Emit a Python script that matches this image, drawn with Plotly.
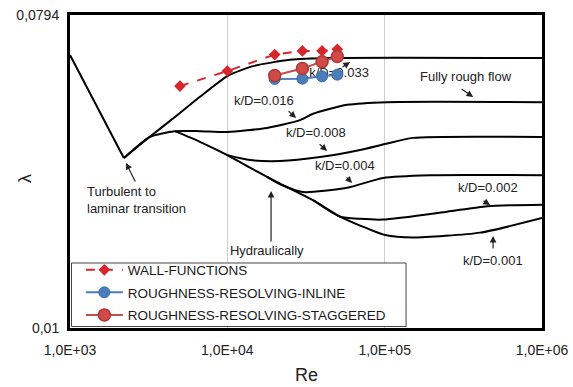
import plotly.graph_objects as go

# ---------------- data ----------------
re_laminar = [1000, 2200]
lam_laminar = [0.0609, 0.0308]

re_033 = [2200, 3200, 5000, 6700, 10000, 14560, 25000, 45000, 1000000]
lam_033 = [0.0308, 0.0354, 0.0415, 0.0462, 0.0530, 0.0566, 0.0590, 0.0597, 0.0597]

re_016 = [2200, 3200, 4650, 6700, 10000, 17880, 28980, 35070, 57680, 103500, 1000000]
lam_016 = [0.0308, 0.0354, 0.0368, 0.0368, 0.0366, 0.0376, 0.0396, 0.0413, 0.0438, 0.0446, 0.0446]

re_smooth_001 = [4650, 6700, 10000, 13940, 17880, 21630, 35070, 52070, 69770, 100600, 151500, 404200, 1000000]
lam_smooth_001 = [0.0368, 0.0343, 0.0314, 0.0289, 0.0272, 0.0260, 0.0233, 0.0209, 0.0197, 0.0185, 0.0182, 0.0188, 0.0207]

re_008 = [10000, 13940, 21630, 38850, 69770, 100600, 151500, 1000000]
lam_008 = [0.0314, 0.0304, 0.0302, 0.0310, 0.0325, 0.0338, 0.0352, 0.0354]

re_004 = [17880, 21630, 30270, 57680, 97680, 194400, 1000000]
lam_004 = [0.0272, 0.0259, 0.0246, 0.0253, 0.0270, 0.0275, 0.0275]

re_002 = [35070, 52070, 69770, 97680, 249300, 447700, 1000000]
lam_002 = [0.0233, 0.0209, 0.0206, 0.0205, 0.0216, 0.0224, 0.0226]

re_wall = [5000, 10000, 20000, 30000, 40000, 50000]
lam_wall = [0.0496, 0.0548, 0.0611, 0.0626, 0.0626, 0.0633]

re_inline = [20000, 30000, 40000, 50000]
lam_inline = [0.0520, 0.0521, 0.0529, 0.0535]

re_stag = [20000, 30000, 40000, 50000]
lam_stag = [0.0532, 0.0557, 0.0583, 0.0603]

x_tickvals = [1e3, 1e4, 1e5, 1e6]
x_ticktext = ["1,0E+03", "1,0E+04", "1,0E+05", "1,0E+06"]
y_tickvals = [0.01, 0.0794]
y_ticktext = ["0,01", "0,0794"]

FONT = "Liberation Sans"
TXT = "#222222"

fig = go.Figure()

# Moody-style black curves
fig.add_trace(go.Scatter(x=re_laminar, y=lam_laminar, mode="lines",
                         line=dict(color="black", width=2), showlegend=False, hoverinfo="skip"))
for xs, ys in [(re_033, lam_033), (re_016, lam_016), (re_smooth_001, lam_smooth_001),
               (re_008, lam_008), (re_004, lam_004), (re_002, lam_002)]:
    fig.add_trace(go.Scatter(x=xs, y=ys, mode="lines",
                             line=dict(color="black", width=2, shape="spline", smoothing=0.6),
                             showlegend=False, hoverinfo="skip"))

# labels partly hidden by markers / legend box (text traces sit below them)
fig.add_trace(go.Scatter(x=[51300], y=[0.0537], mode="text", text=["k/D=0.033"],
                         textfont=dict(family=FONT, size=13, color=TXT),
                         showlegend=False, hoverinfo="skip"))
fig.add_trace(go.Scatter(x=[17800], y=[0.0157], mode="text", text=["Hydraulically<br>smooth"],
                         textfont=dict(family=FONT, size=13, color=TXT),
                         showlegend=False, hoverinfo="skip"))

# model results
fig.add_trace(go.Scatter(x=re_wall, y=lam_wall, mode="lines+markers", name="WALL-FUNCTIONS",
                         legendgroup="a",
                         line=dict(color="#d7262b", width=2, dash="dash"),
                         marker=dict(symbol="diamond", size=9, color="#d7262b")))
fig.add_trace(go.Scatter(x=re_inline, y=lam_inline, mode="lines+markers",
                         name="ROUGHNESS-RESOLVING-INLINE", legendgroup="b",
                         line=dict(color="#4a7ebb", width=2),
                         marker=dict(symbol="circle", size=11, color="#4a7ebb",
                                     line=dict(color="#3c6aa8", width=1))))
fig.add_trace(go.Scatter(x=re_stag, y=lam_stag, mode="lines+markers",
                         name="ROUGHNESS-RESOLVING-STAGGERED", legendgroup="c",
                         line=dict(color="#c0504d", width=2),
                         marker=dict(symbol="circle", size=12, color="#d24a47",
                                     line=dict(color="#a93a37", width=1.5))))

# text annotations (log10 coordinates)
labels = [
    ("Fully rough flow", 5.52, -1.2784, "center"),
    ("k/D=0.016", 4.233, -1.3473, "center"),
    ("k/D=0.008", 4.564, -1.4393, "center"),
    ("k/D=0.004", 4.748, -1.5341, "center"),
    ("k/D=0.002", 5.657, -1.5973, "center"),
    ("k/D=0.001", 5.689, -1.8071, "center"),
    ("Turbulent to<br>laminar transition", 3.095, -1.6332, "left"),
]
for txt, lx, ly, anc in labels:
    fig.add_annotation(x=lx, y=ly, text=txt, showarrow=False, xanchor=anc, align="left",
                       font=dict(family=FONT, size=13, color=TXT))

# arrows: head position (log coords) and tail offset (px)
arrows = [
    (4.780, -1.2353, -9, 6),
    (5.562, -1.3358, -13, -9),
    (4.437, -1.3962, -9, -8),
    (4.634, -1.4910, -9, -8),
    (4.793, -1.5830, -7, -7),
    (5.670, -1.6462, -8, -5),
    (5.689, -1.7352, 0, 14),
    (3.356, -1.5255, 10, 20),
    (4.278, -1.6059, 0, 52),
]
for hx, hy, ax, ay in arrows:
    fig.add_annotation(x=hx, y=hy, ax=ax, ay=ay, text="", showarrow=True,
                       arrowhead=2, arrowsize=1.1, arrowwidth=1.2, arrowcolor=TXT)

# axis titles
fig.add_annotation(x=0.5, y=-0.150, xref="paper", yref="paper", text="Re", showarrow=False,
                   font=dict(family=FONT, size=18, color=TXT), yanchor="middle")
fig.add_annotation(x=-0.121, y=0.479, xref="paper", yref="paper", text="λ", showarrow=False,
                   textangle=-90, font=dict(family=FONT, size=18, color=TXT))

# legend box
fig.add_shape(type="rect", xref="paper", yref="paper", x0=0.0032, y0=0.0048, x1=0.712, y1=0.2077,
              fillcolor="white", line=dict(color="#444444", width=1), layer="above")

fig.update_layout(
    width=573, height=387,
    margin=dict(l=70, r=31, t=15, b=59, autoexpand=False),
    paper_bgcolor="white", plot_bgcolor="white",
    font=dict(family=FONT, color=TXT),
    showlegend=True,
    legend=dict(x=0.023, y=-0.008, xanchor="left", yanchor="bottom",
                bgcolor="rgba(0,0,0,0)", borderwidth=0, itemwidth=37,
                font=dict(family=FONT, size=13.5, color="#1a1a1a"),
                tracegroupgap=2),
)
fig.update_xaxes(type="log", range=[3, 6], tickvals=x_tickvals, ticktext=x_ticktext,
                 showgrid=True, gridcolor="#cfcfcf", gridwidth=1,
                 showline=True, linecolor="black", linewidth=3, mirror=True, ticks="",
                 tickfont=dict(family=FONT, size=14, color=TXT), ticklabelstandoff=7,
                 automargin=False, zeroline=False)
fig.update_yaxes(type="log", range=[-2, -1.1002], tickvals=y_tickvals, ticktext=y_ticktext,
                 showgrid=False,
                 showline=True, linecolor="black", linewidth=3, mirror=True, ticks="",
                 tickfont=dict(family=FONT, size=14, color=TXT), ticklabelstandoff=5,
                 automargin=False, zeroline=False)

fig.write_html("out.html")
